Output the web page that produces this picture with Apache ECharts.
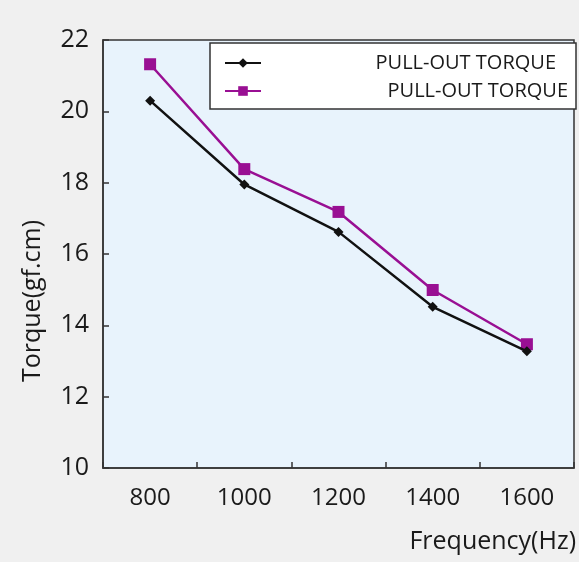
<!DOCTYPE html>
<html>
<head>
<meta charset="utf-8">
<script src="https://cdn.jsdelivr.net/npm/echarts@6/dist/echarts.min.js"></script>
<style>
html,body{margin:0;padding:0;background:#f0f0f0;}
#c{width:579px;height:562px;}
</style>
</head>
<body>
<div id="c"></div>
<script>
const categories = ['800', '1000', '1200', '1400', '1600'];
const seriesNames = ['PULL-OUT TORQUE', 'PULL-OUT TORQUE '];
const blackValues = [20.3, 17.95, 16.62, 14.52, 13.27];
const purpleValues = [21.32, 18.38, 17.18, 14.99, 13.47];
const yTicks = [10, 12, 14, 16, 18, 20, 22];

const FONT = '"Open Sans", "Noto Sans", sans-serif';
const TXT = '#1a1a1a';
const chart = echarts.init(document.getElementById('c'), null, {renderer: 'canvas'});
chart.setOption({
  backgroundColor: '#f0f0f0',
  animation: false,
  grid: {left: 103, right: 4, top: 40, bottom: 94, show: true, backgroundColor: '#e8f3fc', borderColor: '#333', borderWidth: 1.5},
  legend: {
    orient: 'vertical',
    left: 210, top: 43,
    data: seriesNames,
    backgroundColor: '#fff',
    borderColor: '#333',
    borderWidth: 1.5,
    borderRadius: 0,
    padding: [10, 8, 8, 14],
    itemGap: 8,
    itemWidth: 36,
    itemHeight: 12,
    formatter: function (n) { return (n === seriesNames[0] ? '{a|' : '{b|') + n.trim() + '}'; },
    textStyle: {
      rich: {
        a: {width: 290, align: 'right', fontSize: 20, fontFamily: FONT, color: TXT, padding: [0, 12, 0, 0]},
        b: {width: 302, align: 'right', fontSize: 20, fontFamily: FONT, color: TXT}
      }
    }
  },
  xAxis: {
    type: 'category',
    data: categories,
    boundaryGap: true,
    name: 'Frequency(Hz)',
    nameLocation: 'end',
    nameGap: 2,
    nameTextStyle: {align: 'right', verticalAlign: 'top', padding: [61, 0, 0, 0], fontSize: 25, fontFamily: FONT, color: TXT},
    axisLine: {lineStyle: {color: '#333', width: 1.5}},
    axisTick: {show: true, inside: true, length: 6, lineStyle: {color: '#333', width: 1.5}},
    axisLabel: {fontSize: 24, fontFamily: FONT, color: TXT, margin: 18},
    splitLine: {show: false}
  },
  yAxis: {
    type: 'value',
    min: 10, max: 22, interval: 2,
    name: 'Torque(gf.cm)',
    nameLocation: 'middle',
    nameGap: 58,
    nameTextStyle: {fontSize: 25, fontFamily: FONT, color: TXT, padding: [0, 94, 0, 0]},
    axisLine: {show: true, lineStyle: {color: '#333', width: 1.5}},
    axisTick: {show: true, inside: true, length: 6, lineStyle: {color: '#333', width: 1.5}},
    axisLabel: {fontSize: 25, fontFamily: FONT, color: TXT, margin: 14,
      formatter: function (v) { return yTicks.indexOf(v) >= 0 ? String(v) : ''; }},
    splitLine: {show: false}
  },
  series: [
    {
      name: seriesNames[0], type: 'line', data: blackValues,
      symbol: 'diamond', symbolSize: 10,
      itemStyle: {color: '#111'}, lineStyle: {color: '#111', width: 2.5}, z: 3
    },
    {
      name: seriesNames[1], type: 'line', data: purpleValues,
      symbol: 'rect', symbolSize: 12,
      itemStyle: {color: '#990f93'}, lineStyle: {color: '#990f93', width: 2.5}, z: 2
    }
  ]
});
</script>
</body>
</html>
